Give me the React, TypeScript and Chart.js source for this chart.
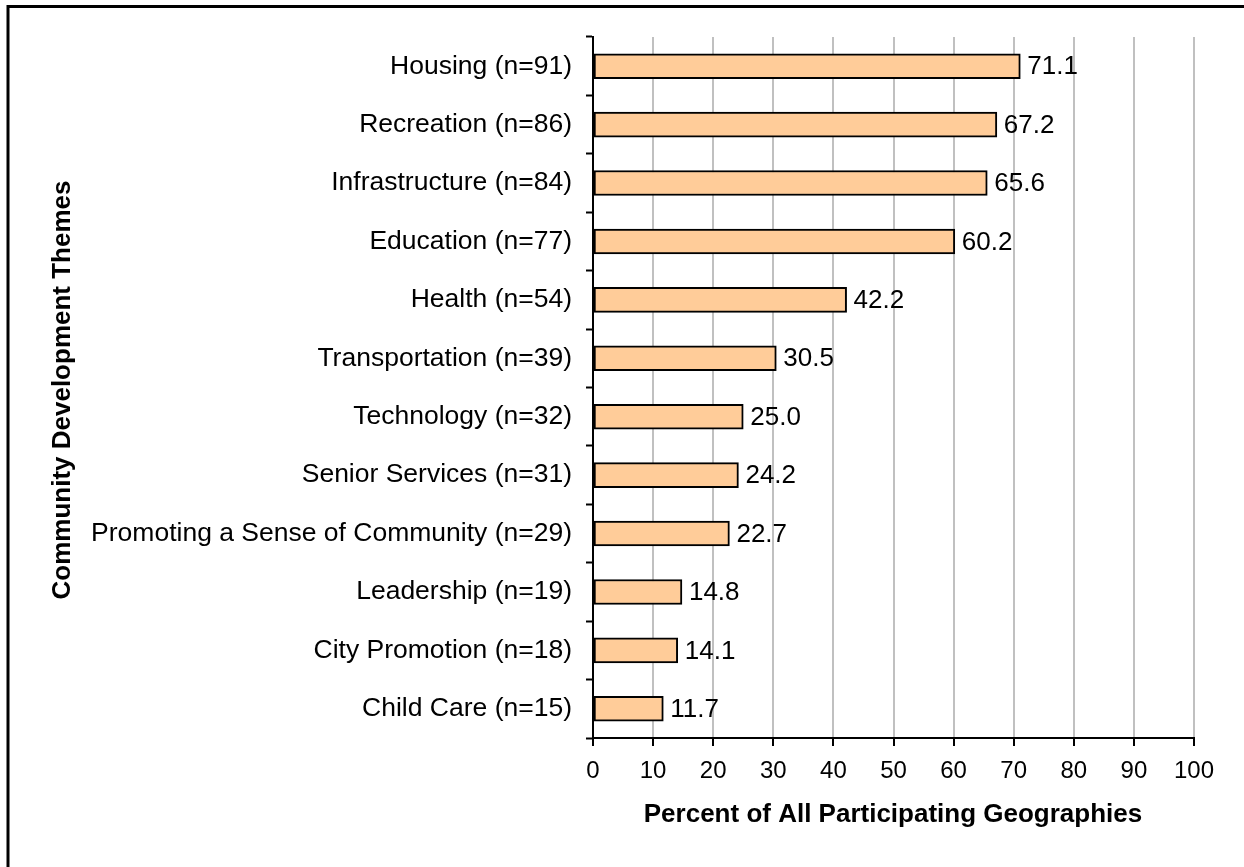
import React, { useEffect, useRef } from "react";
import { Chart, registerables } from "chart.js";

Chart.register(...registerables);

const categories = [
  "Housing (n=91)",
  "Recreation (n=86)",
  "Infrastructure (n=84)",
  "Education (n=77)",
  "Health (n=54)",
  "Transportation (n=39)",
  "Technology (n=32)",
  "Senior Services (n=31)",
  "Promoting a Sense of Community (n=29)",
  "Leadership (n=19)",
  "City Promotion (n=18)",
  "Child Care (n=15)",
];
const percentValues = [71.1, 67.2, 65.6, 60.2, 42.2, 30.5, 25.0, 24.2, 22.7, 14.8, 14.1, 11.7];
const xTickValues = [0, 10, 20, 30, 40, 50, 60, 70, 80, 90, 100];
const xAxisTitle = "Percent of All Participating Geographies";
const yAxisTitle = "Community Development Themes";

const FONT = "Arial, 'Liberation Sans', sans-serif";

const framePlugin = {
  id: "frame",
  beforeDraw(chart: any) {
    const ctx = chart.ctx;
    ctx.save();
    ctx.fillStyle = "#ffffff";
    ctx.fillRect(0, 0, chart.width, chart.height);
    ctx.strokeStyle = "#000000";
    ctx.lineWidth = 3;
    ctx.beginPath();
    ctx.moveTo(8, chart.height + 5);
    ctx.lineTo(8, 6.5);
    ctx.lineTo(chart.width + 5, 6.5);
    ctx.stroke();
    ctx.restore();
  },
};

const labelsPlugin = {
  id: "valueLabels",
  afterDatasetsDraw(chart: any) {
    const ctx = chart.ctx;
    const meta = chart.getDatasetMeta(0);
    ctx.save();
    ctx.fillStyle = "#000000";
    ctx.font = `26px ${FONT}`;
    ctx.textAlign = "left";
    ctx.textBaseline = "middle";
    meta.data.forEach((el: any, i: number) => {
      const v = chart.data.datasets[0].data[i] as number;
      ctx.fillText(v.toFixed(1), el.x + 7, el.y + 1);
    });
    ctx.restore();
  },
  afterDraw(chart: any) {
    const ctx = chart.ctx;
    ctx.save();
    ctx.fillStyle = "#000000";
    ctx.font = `bold 26px ${FONT}`;
    ctx.textAlign = "center";
    ctx.textBaseline = "middle";
    ctx.fillText(xAxisTitle, 893, 815);
    ctx.translate(63, 390);
    ctx.rotate(-Math.PI / 2);
    ctx.fillText(yAxisTitle, 0, 0);
    ctx.restore();
  },
};

export default function App() {
  const ref = useRef<HTMLCanvasElement | null>(null);
  useEffect(() => {
    if (!ref.current) return;
    const chart = new Chart(ref.current, {
      type: "bar",
      data: {
        labels: categories,
        datasets: [
          {
            data: percentValues,
            backgroundColor: "#FFCC99",
            borderColor: "#000000",
            borderWidth: 2,
            borderSkipped: false,
            barThickness: 25,
          },
        ],
      },
      options: {
        indexAxis: "y",
        responsive: false,
        animation: false,
        devicePixelRatio: 1,
        layout: { padding: { top: 37, right: 50, left: 0, bottom: 0 } },
        plugins: {
          legend: { display: false },
          tooltip: { enabled: false },
          title: { display: false },
        },
        scales: {
          x: {
            type: "linear",
            min: 0,
            max: 100,
            afterFit(scale: any) {
              scale.height = 129;
            },
            afterBuildTicks(scale: any) {
              scale.ticks = xTickValues.map((v) => ({ value: v }));
            },
            grid: {
              color: "#c0c0c0",
              lineWidth: 2,
              drawTicks: true,
              tickLength: 8,
              tickColor: "#000000",
              tickWidth: 2,
            },
            border: { display: true, color: "#000000", width: 2 },
            ticks: {
              color: "#000000",
              font: { family: FONT, size: 24 },
              padding: 11,
              maxRotation: 0,
            },
          },
          y: {
            type: "category",
            afterFit(scale: any) {
              scale.width = 593;
            },
            grid: {
              offset: true,
              drawOnChartArea: false,
              drawTicks: true,
              tickLength: 7,
              tickColor: "#000000",
              tickWidth: 2,
              color: "#000000",
            },
            border: { display: true, color: "#000000", width: 2 },
            ticks: {
              color: "#000000",
              font: { family: FONT, size: 26.5 },
              padding: 14,
              autoSkip: false,
            },
          },
        },
      },
      plugins: [framePlugin, labelsPlugin],
    });
    return () => chart.destroy();
  }, []);
  return (
    <div style={{ position: "fixed", left: 0, top: 0, width: 1244, height: 867, background: "#fff" }}>
      <canvas ref={ref} width={1244} height={867} style={{ width: 1244, height: 867, display: "block" }} />
    </div>
  );
}
